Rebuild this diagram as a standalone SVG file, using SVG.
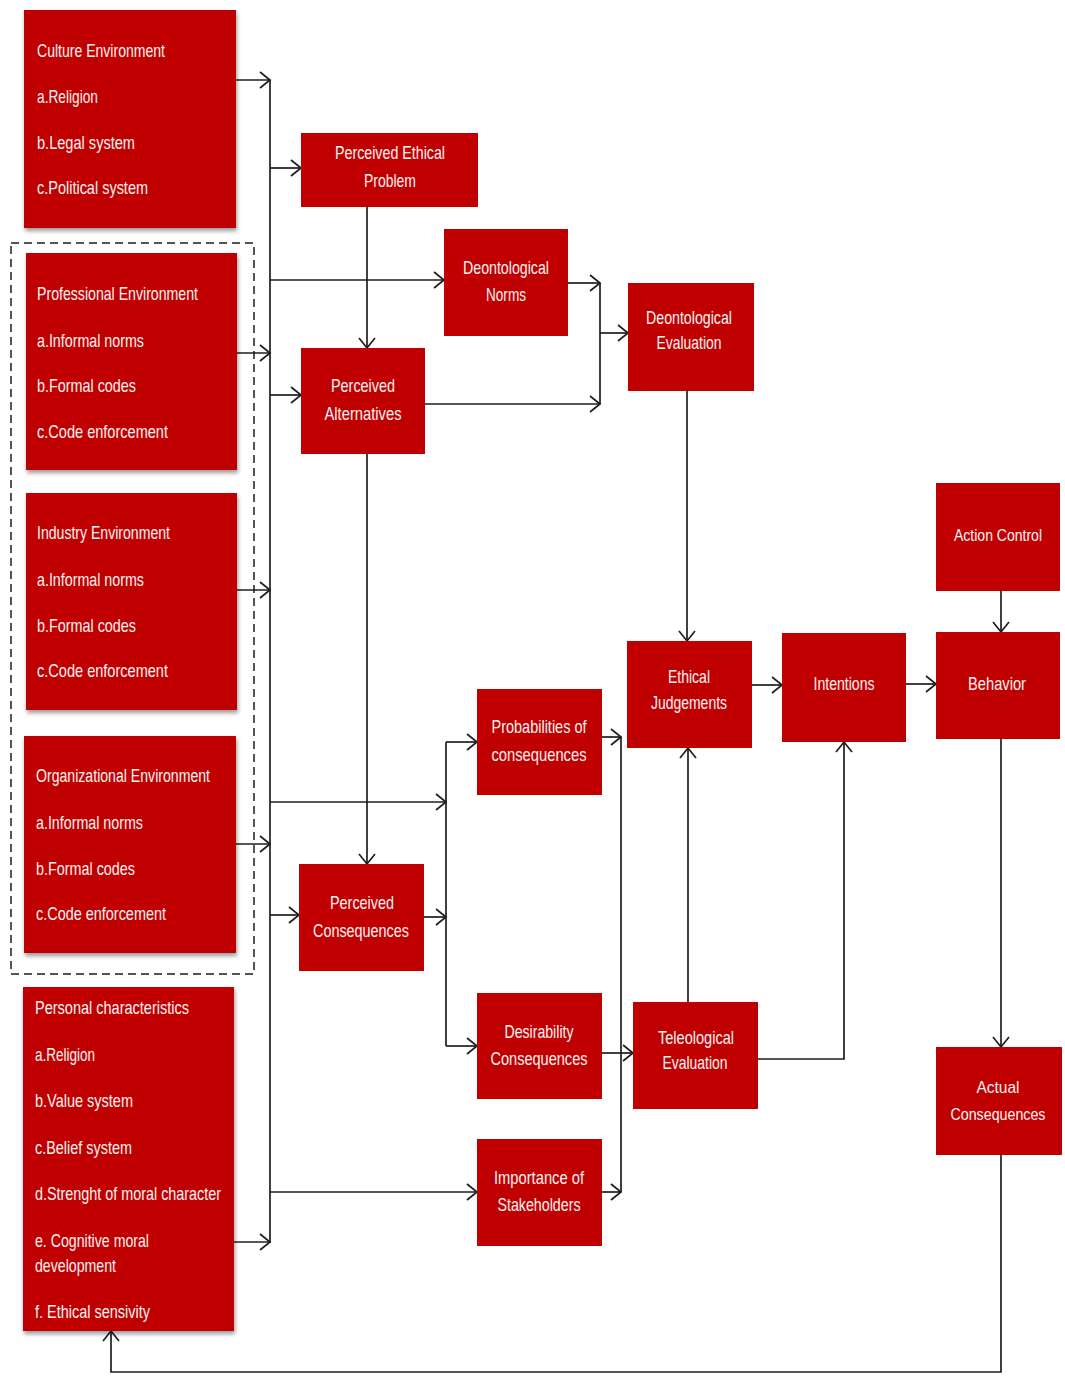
<svg xmlns="http://www.w3.org/2000/svg" width="1065" height="1376" viewBox="0 0 1065 1376">
<style>
.box{fill:#C00000;}
.sh{filter:url(#shadow);}
text{font-family:"Liberation Sans Narrow","Liberation Sans",Arial,sans-serif;font-size:18.5px;fill:#FDF2F2;}
.s{font-size:17px;}
.c{text-anchor:middle;}
.con{fill:none;stroke:#1e1e1e;stroke-width:1.7;}
.arr{marker-end:url(#ah);}
</style>
<defs>
<filter id="shadow" x="-10%" y="-10%" width="125%" height="125%">
<feDropShadow dx="1" dy="3" stdDeviation="2.2" flood-color="#000" flood-opacity="0.4"/>
</filter>
<marker id="ah" markerUnits="userSpaceOnUse" markerWidth="14" markerHeight="20" viewBox="-2 -2 14 20" refX="10" refY="8" orient="auto">
<path d="M0,0 L10,8 L0,16" fill="none" stroke="#1e1e1e" stroke-width="1.7"/>
</marker>
</defs>
<rect width="1065" height="1376" fill="#fff"/>

<g id="connectors">
<path class="con" d="M270,80 V1243"/>
<path class="con arr" d="M236,80 H270"/>
<path class="con arr" d="M237,353 H270"/>
<path class="con arr" d="M237,590 H270"/>
<path class="con arr" d="M236,844 H270"/>
<path class="con arr" d="M234,1242 H270"/>
<path class="con arr" d="M270,168 H301"/>
<path class="con arr" d="M270,280 H444"/>
<path class="con arr" d="M270,395 H301"/>
<path class="con arr" d="M270,802 H446"/>
<path class="con arr" d="M270,915 H299"/>
<path class="con arr" d="M270,1192 H477"/>
<path class="con arr" d="M367,207 V348"/>
<path class="con arr" d="M367,454 V864"/>
<path class="con arr" d="M568,283 H600"/>
<path class="con arr" d="M425,404 H600"/>
<path class="con" d="M600,283 V404"/>
<path class="con arr" d="M600,333 H628"/>
<path class="con arr" d="M687,391 V641"/>
<path class="con arr" d="M752,685 H782"/>
<path class="con arr" d="M906,684 H936"/>
<path class="con arr" d="M1001,591 V632"/>
<path class="con arr" d="M1001,739 V1047"/>
<path class="con arr" d="M1001,1155 V1372 H111 V1331"/>
<path class="con" d="M446,742 V1046"/>
<path class="con arr" d="M424,917 H446"/>
<path class="con arr" d="M446,742 H477"/>
<path class="con arr" d="M446,1046 H477"/>
<path class="con" d="M621,737 V1192"/>
<path class="con arr" d="M602,737 H621"/>
<path class="con arr" d="M602,1053 H633"/>
<path class="con arr" d="M602,1192 H621"/>
<path class="con arr" d="M688,1002 V748"/>
<path class="con arr" d="M758,1059 H844 V742"/>
</g>

<rect id="environment-group" x="11" y="243" width="243" height="731" fill="none" stroke="#1e1e1e" stroke-width="1.5" stroke-dasharray="8 5"/>

<g id="culture">
<rect class="box sh" x="24" y="10" width="212" height="218"/>
<text x="37" y="57" textLength="128" lengthAdjust="spacingAndGlyphs">Culture Environment</text>
<text x="37" y="103" textLength="61" lengthAdjust="spacingAndGlyphs">a.Religion</text>
<text x="37" y="149" textLength="98" lengthAdjust="spacingAndGlyphs">b.Legal system</text>
<text x="37" y="194" textLength="111" lengthAdjust="spacingAndGlyphs">c.Political system</text>
</g>

<g id="professional">
<rect class="box sh" x="26" y="253" width="211" height="217"/>
<text x="37" y="300" textLength="161" lengthAdjust="spacingAndGlyphs">Professional Environment</text>
<text x="37" y="347" textLength="107" lengthAdjust="spacingAndGlyphs">a.Informal norms</text>
<text x="37" y="392" textLength="99" lengthAdjust="spacingAndGlyphs">b.Formal codes</text>
<text x="37" y="438" textLength="131" lengthAdjust="spacingAndGlyphs">c.Code enforcement</text>
</g>

<g id="industry">
<rect class="box sh" x="26" y="493" width="211" height="217"/>
<text x="37" y="539" textLength="133" lengthAdjust="spacingAndGlyphs">Industry Environment</text>
<text x="37" y="586" textLength="107" lengthAdjust="spacingAndGlyphs">a.Informal norms</text>
<text x="37" y="632" textLength="99" lengthAdjust="spacingAndGlyphs">b.Formal codes</text>
<text x="37" y="677" textLength="131" lengthAdjust="spacingAndGlyphs">c.Code enforcement</text>
</g>

<g id="organizational">
<rect class="box sh" x="24" y="736" width="212" height="217"/>
<text x="36" y="782" textLength="174" lengthAdjust="spacingAndGlyphs">Organizational Environment</text>
<text x="36" y="829" textLength="107" lengthAdjust="spacingAndGlyphs">a.Informal norms</text>
<text x="36" y="875" textLength="99" lengthAdjust="spacingAndGlyphs">b.Formal codes</text>
<text x="36" y="920" textLength="130" lengthAdjust="spacingAndGlyphs">c.Code enforcement</text>
</g>

<g id="personal">
<rect class="box sh" x="23" y="987" width="211" height="344"/>
<text x="35" y="1014" textLength="154" lengthAdjust="spacingAndGlyphs">Personal characteristics</text>
<text x="35" y="1061" textLength="60" lengthAdjust="spacingAndGlyphs">a.Religion</text>
<text x="35" y="1107" textLength="98" lengthAdjust="spacingAndGlyphs">b.Value system</text>
<text x="35" y="1154" textLength="97" lengthAdjust="spacingAndGlyphs">c.Belief system</text>
<text x="35" y="1200" textLength="186" lengthAdjust="spacingAndGlyphs">d.Strenght of moral character</text>
<text x="35" y="1247" textLength="114" lengthAdjust="spacingAndGlyphs">e. Cognitive moral</text>
<text x="35" y="1272" textLength="81" lengthAdjust="spacingAndGlyphs">development</text>
<text x="35" y="1318" textLength="115" lengthAdjust="spacingAndGlyphs">f. Ethical sensivity</text>
</g>

<g id="perceived-ethical-problem">
<rect class="box" x="301" y="133" width="177" height="74"/>
<text class="c" x="390" y="159" textLength="110" lengthAdjust="spacingAndGlyphs">Perceived Ethical</text>
<text class="c" x="390" y="187" textLength="52" lengthAdjust="spacingAndGlyphs">Problem</text>
</g>

<g id="deontological-norms">
<rect class="box" x="444" y="229" width="124" height="107"/>
<text class="c" x="506" y="274" textLength="86" lengthAdjust="spacingAndGlyphs">Deontological</text>
<text class="c" x="506" y="301" textLength="40" lengthAdjust="spacingAndGlyphs">Norms</text>
</g>

<g id="perceived-alternatives">
<rect class="box" x="301" y="348" width="124" height="106"/>
<text class="c" x="363" y="392" textLength="64" lengthAdjust="spacingAndGlyphs">Perceived</text>
<text class="c" x="363" y="420" textLength="77" lengthAdjust="spacingAndGlyphs">Alternatives</text>
</g>

<g id="deontological-evaluation">
<rect class="box" x="628" y="283" width="126" height="108"/>
<text class="c" x="689" y="324" textLength="86" lengthAdjust="spacingAndGlyphs">Deontological</text>
<text class="c" x="689" y="349" textLength="65" lengthAdjust="spacingAndGlyphs">Evaluation</text>
</g>

<g id="ethical-judgements">
<rect class="box" x="627" y="641" width="125" height="107"/>
<text class="c" x="689" y="683" textLength="42" lengthAdjust="spacingAndGlyphs">Ethical</text>
<text class="c" x="689" y="709" textLength="76" lengthAdjust="spacingAndGlyphs">Judgements</text>
</g>

<g id="intentions">
<rect class="box" x="782" y="633" width="124" height="109"/>
<text class="c" x="844" y="690" textLength="61" lengthAdjust="spacingAndGlyphs">Intentions</text>
</g>

<g id="action-control">
<rect class="box" x="936" y="483" width="124" height="108"/>
<text class="c s" x="998" y="541" textLength="88" lengthAdjust="spacingAndGlyphs">Action Control</text>
</g>

<g id="behavior">
<rect class="box" x="936" y="632" width="124" height="107"/>
<text class="c" x="997" y="690" textLength="58" lengthAdjust="spacingAndGlyphs">Behavior</text>
</g>

<g id="probabilities">
<rect class="box" x="477" y="689" width="125" height="106"/>
<text class="c" x="539" y="733" textLength="95" lengthAdjust="spacingAndGlyphs">Probabilities of</text>
<text class="c" x="539" y="761" textLength="95" lengthAdjust="spacingAndGlyphs">consequences</text>
</g>

<g id="perceived-consequences">
<rect class="box" x="299" y="864" width="125" height="107"/>
<text class="c" x="362" y="909" textLength="64" lengthAdjust="spacingAndGlyphs">Perceived</text>
<text class="c" x="361" y="937" textLength="96" lengthAdjust="spacingAndGlyphs">Consequences</text>
</g>

<g id="desirability">
<rect class="box" x="477" y="993" width="125" height="106"/>
<text class="c" x="539" y="1038" textLength="69" lengthAdjust="spacingAndGlyphs">Desirability</text>
<text class="c" x="539" y="1065" textLength="97" lengthAdjust="spacingAndGlyphs">Consequences</text>
</g>

<g id="teleological-evaluation">
<rect class="box" x="633" y="1002" width="125" height="107"/>
<text class="c" x="696" y="1044" textLength="76" lengthAdjust="spacingAndGlyphs">Teleological</text>
<text class="c" x="695" y="1069" textLength="65" lengthAdjust="spacingAndGlyphs">Evaluation</text>
</g>

<g id="importance-of-stakeholders">
<rect class="box" x="477" y="1139" width="125" height="107"/>
<text class="c" x="539" y="1184" textLength="90" lengthAdjust="spacingAndGlyphs">Importance of</text>
<text class="c" x="539" y="1211" textLength="83" lengthAdjust="spacingAndGlyphs">Stakeholders</text>
</g>

<g id="actual-consequences">
<rect class="box" x="936" y="1047" width="126" height="108"/>
<text class="c s" x="998" y="1093" textLength="43" lengthAdjust="spacingAndGlyphs">Actual</text>
<text class="c s" x="998" y="1120" textLength="95" lengthAdjust="spacingAndGlyphs">Consequences</text>
</g>
</svg>
